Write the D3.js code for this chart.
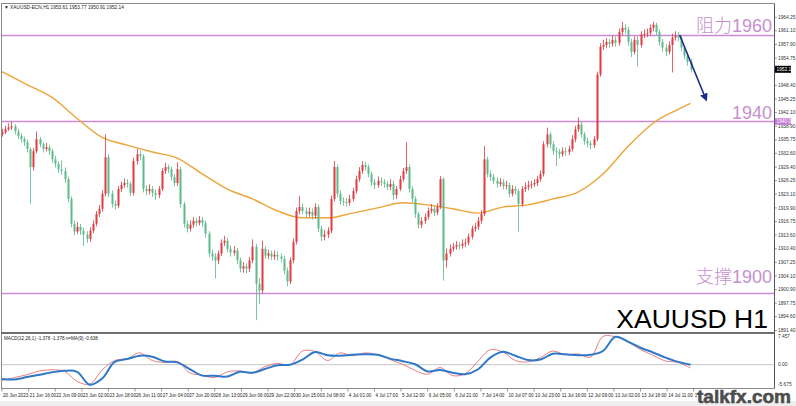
<!DOCTYPE html>
<html><head><meta charset="utf-8">
<script src="https://cdn.jsdelivr.net/npm/d3@7"></script>
<style>html,body{margin:0;padding:0;background:#fff;overflow:hidden}svg{display:block}</style>
</head><body><svg id="c" width="796" height="406"></svg>
<script>
// ---- data (2-hour candles, hour index = 2*i) ----
const firstOpen = 1937.0;
const closes = [1937.5,1938.2,1938.6,1938.9,1937.7,1936.6,1935.9,1935.2,1933.6,1929.4,
1933.1,1935.9,1934.7,1933.6,1934.0,1933.1,1931.2,1930.1,1928.9,1928.5,
1926.6,1922.0,1916.2,1914.4,1915.5,1914.6,1913.7,1912.7,1914.6,1916.2,
1918.5,1919.7,1923.2,1931.7,1923.2,1920.8,1920.4,1924.3,1925.2,1925.7,
1925.5,1923.4,1930.8,1932.4,1931.9,1924.3,1923.8,1924.3,1923.4,1922.9,
1924.3,1928.5,1929.4,1928.9,1927.1,1925.7,1928.9,1920.8,1916.2,1915.1,
1916.0,1916.9,1916.4,1917.1,1916.4,1913.9,1909.3,1908.6,1907.7,1909.3,
1911.8,1912.3,1910.4,1909.5,1910.0,1907.7,1905.8,1906.3,1905.8,1907.7,
1910.9,1902.3,1900.7,1910.4,1908.8,1909.3,1908.6,1909.0,1908.6,1908.1,
1905.3,1902.8,1907.7,1912.0,1919.2,1920.1,1919.2,1918.5,1919.0,1918.1,
1920.1,1915.1,1913.2,1913.7,1914.6,1922.0,1929.4,1923.2,1921.5,1921.3,
1921.1,1922.0,1923.8,1926.6,1928.5,1929.9,1929.4,1927.8,1925.9,1925.2,
1926.2,1925.9,1925.5,1924.8,1925.5,1922.9,1924.3,1926.6,1928.5,1929.4,
1924.3,1922.0,1918.5,1916.0,1916.9,1917.8,1919.2,1919.7,1918.8,1920.1,
1926.6,1907.7,1909.3,1910.4,1910.9,1911.3,1911.1,1911.6,1911.8,1913.2,
1915.1,1915.5,1916.9,1918.5,1931.2,1927.8,1927.1,1926.2,1925.5,1925.9,
1925.0,1925.2,1923.2,1924.3,1923.8,1920.8,1924.3,1924.8,1925.2,1925.4,
1925.7,1926.6,1927.8,1934.7,1937.0,1934.7,1933.1,1932.9,1932.4,1933.1,
1932.9,1933.6,1935.9,1938.2,1939.3,1937.0,1935.4,1934.9,1934.5,1935.9,
1950.9,1957.4,1957.8,1958.5,1958.1,1959.0,1958.3,1960.8,1961.8,1961.3,
1958.5,1956.2,1959.0,1957.8,1960.2,1960.4,1960.6,1961.8,1962.5,1960.8,
1958.5,1957.2,1956.2,1957.8,1959.5,1959.9,1959.5,1957.2,1955.3,1953.9,
1952.1];
const highs = [1938.3,1939.0,1939.6,1940.0,1939.4,1938.3,1937.2,1936.5,1935.8,1934.0,
1933.8,1937.7,1936.4,1935.2,1935.0,1934.6,1933.7,1932.0,1930.8,1931.0,
1929.3,1927.2,1922.6,1917.0,1916.6,1916.2,1915.3,1914.5,1915.4,1917.0,
1919.2,1920.6,1924.0,1937.0,1932.4,1924.0,1921.6,1925.0,1926.0,1926.8,
1926.6,1926.0,1931.6,1933.6,1933.2,1932.4,1925.2,1925.4,1925.0,1924.2,
1925.0,1929.2,1930.4,1930.0,1929.5,1927.8,1930.5,1929.5,1921.4,1917.0,
1917.0,1917.8,1917.6,1918.0,1917.8,1917.0,1914.5,1910.2,1909.4,1910.0,
1912.6,1913.4,1913.0,1911.2,1911.0,1910.6,1908.4,1907.3,1907.0,1908.5,
1912.6,1911.5,1903.5,1912.3,1911.0,1910.2,1910.0,1910.0,1909.8,1909.4,
1908.8,1906.0,1908.4,1912.8,1920.0,1922.7,1920.9,1920.0,1920.0,1919.8,
1921.0,1920.7,1915.8,1914.8,1915.4,1922.8,1930.8,1930.0,1924.0,1922.4,
1922.2,1923.0,1924.6,1927.4,1929.4,1930.8,1930.6,1930.0,1928.4,1926.6,
1927.2,1927.0,1926.6,1926.2,1926.6,1926.2,1925.0,1927.4,1929.2,1935.2,
1930.0,1925.0,1922.6,1919.0,1917.8,1918.6,1920.0,1920.8,1920.4,1921.0,
1927.3,1927.0,1910.5,1911.4,1911.8,1912.2,1912.0,1912.6,1912.8,1914.0,
1915.8,1916.4,1917.8,1919.4,1934.3,1931.8,1928.6,1927.8,1927.0,1926.8,
1926.6,1926.2,1925.8,1925.2,1925.0,1924.4,1925.0,1925.8,1926.2,1926.2,
1926.6,1927.4,1928.6,1935.4,1938.6,1937.6,1935.4,1934.0,1933.6,1934.0,
1934.0,1934.4,1936.8,1939.0,1941.0,1940.0,1937.6,1936.2,1935.6,1936.6,
1951.6,1958.2,1959.0,1959.4,1959.2,1960.0,1959.8,1961.6,1963.2,1962.6,
1962.0,1959.2,1959.8,1959.8,1961.0,1961.4,1961.6,1962.6,1963.2,1963.0,
1961.4,1959.2,1958.0,1958.6,1960.4,1961.0,1960.8,1960.0,1957.8,1956.0,
1954.6];
const lows = [1936.5,1937.1,1937.8,1938.0,1937.0,1935.9,1935.0,1934.3,1932.8,1920.8,
1928.6,1932.6,1934.0,1932.8,1933.0,1932.2,1930.4,1929.3,1928.0,1927.6,
1925.7,1921.2,1915.4,1913.5,1913.8,1913.6,1911.1,1911.8,1912.0,1914.0,
1915.6,1917.8,1919.0,1922.6,1922.4,1920.0,1919.5,1919.8,1923.6,1924.6,
1924.6,1922.6,1922.8,1930.0,1931.0,1923.5,1922.8,1923.0,1922.5,1921.8,
1922.2,1923.8,1927.8,1928.0,1926.3,1924.9,1925.0,1920.0,1915.3,1914.2,
1914.4,1915.3,1915.6,1915.8,1915.5,1913.0,1908.4,1907.6,1903.5,1906.8,
1908.7,1911.0,1909.6,1908.6,1908.8,1906.8,1904.9,1904.8,1904.6,1905.0,
1907.0,1893.8,1897.5,1900.0,1908.0,1908.0,1907.8,1907.8,1907.6,1907.2,
1904.4,1901.6,1902.2,1907.0,1911.4,1918.4,1918.4,1917.6,1917.8,1917.2,
1917.4,1914.3,1912.2,1912.4,1912.9,1914.0,1921.4,1922.4,1920.6,1920.4,
1920.2,1920.4,1921.4,1923.2,1926.0,1927.8,1928.6,1927.0,1925.0,1924.3,
1924.6,1925.0,1924.6,1924.0,1924.0,1921.8,1922.0,1923.8,1926.0,1927.8,
1923.5,1921.2,1917.6,1915.1,1915.2,1916.2,1917.2,1918.6,1918.0,1918.2,
1919.6,1903.0,1906.0,1908.6,1909.8,1910.2,1910.2,1910.4,1910.8,1911.2,
1912.6,1914.4,1914.8,1916.2,1918.0,1927.0,1926.2,1925.4,1924.6,1924.8,
1924.2,1924.2,1922.4,1922.6,1923.0,1914.4,1920.2,1923.6,1924.0,1924.4,
1924.8,1925.0,1926.0,1927.2,1934.0,1933.8,1932.2,1929.6,1931.4,1931.8,
1932.0,1932.2,1933.0,1935.2,1937.6,1936.2,1934.6,1934.0,1933.6,1933.8,
1935.4,1950.4,1956.6,1957.0,1957.2,1957.4,1957.4,1957.6,1960.0,1960.4,
1957.6,1955.0,1955.6,1952.8,1957.2,1959.4,1959.6,1960.0,1961.0,1960.0,
1957.6,1956.2,1955.2,1955.6,1951.4,1958.8,1958.6,1956.4,1954.4,1953.0,
1951.4];
// moving average, sampled every 16 hours (last at hour 440)
const maHours = [0,16,32,48,64,80,96,112,128,144,160,176,192,208,224,240,256,272,288,304,320,336,352,368,384,400,416,432,440];
const maValues = [1951.6,1948.6,1945.6,1940.7,1936.3,1934.5,1932.9,1931.5,1927.8,1924.3,1922.0,1919.2,1917.6,1917.6,1918.7,1919.9,1921.1,1920.6,1919.7,1918.7,1920.1,1920.6,1922.0,1923.6,1927.8,1934.2,1939.6,1942.8,1944.2];
// MACD panel, sampled every 8 hours
const macdMain = [-3.82,-3.13,-2.44,-1.52,-1.24,-1.64,-4.06,-4.75,-1.29,1.01,
1.47,2.86,1.01,0.55,0.78,-1.98,-2.56,-3.13,-1.75,-1.52,
-1.98,-0.48,0.32,-0.07,3.32,3.20,1.01,2.86,2.17,2.86,
2.40,1.24,0.09,-1.41,-2.33,-0.71,-2.67,-2.21,0.78,3.62,
3.09,1.01,0.67,1.71,3.32,2.40,2.63,1.82,6.84,6.77,
5.51,3.66,2.28,0.90,0.55,-0.83];
const macdSignal = [-3.48,-3.59,-3.02,-2.44,-1.87,-1.47,-1.75,-4.86,-3.36,0.67,
1.36,2.17,1.94,0.78,0.55,-1.06,-2.67,-2.67,-2.90,-1.75,
-1.98,-1.06,-0.14,-0.02,1.24,3.09,2.28,2.17,2.40,2.51,
2.40,1.47,0.85,0.09,-1.64,-1.29,-1.98,-2.33,-1.18,1.71,
3.13,2.17,1.13,1.24,2.63,2.51,2.28,2.40,3.32,6.77,
5.62,4.12,2.97,1.71,0.67,-0.02];
// axis labels
const xLabels = ["20 Jun 2023","21 Jun 16:00","22 Jun 09:00","23 Jun 02:00","23 Jun 18:00","26 Jun 11:00","27 Jun 04:00","27 Jun 20:00","28 Jun 13:00","29 Jun 06:00","29 Jun 22:00","30 Jun 15:00","3 Jul 08:00","4 Jul 01:00","4 Jul 17:00","5 Jul 12:00","6 Jul 05:00","6 Jul 21:00","7 Jul 14:00","10 Jul 07:00","10 Jul 23:00","11 Jul 16:00","12 Jul 09:00","13 Jul 02:00","13 Jul 18:00","14 Jul 11:00","17 Jul"];
const yTicks = [1964.25,1961.10,1957.90,1954.75,1948.40,1945.25,1942.10,1938.90,1935.75,1932.60,1929.40,1926.25,1923.10,1919.90,1916.75,1913.60,1910.40,1907.25,1904.10,1900.90,1897.75,1894.60,1891.40];
const macdTicks = [7.457,0,-5.675];
const macdTickLabels = ["7.457","0.00","-5.675"];
const levels = [1960,1940,1900];
const levelLabels = ["阻力1960","1940","支撑1900"];
const lastPrice = 1952.14;
const arrowFrom = [433, 1960.1], arrowTo = [450, 1945.0];
const header = "▼ XAUUSD-ECN,H1  1953.61 1953.77 1950.91 1952.14";
const macdHeader = "MACD(12,26,1) -1.378 -1.378  n=MA(9) -0.638";

// ---- drawing ----
const svg = d3.select('#c');
const axisX = 774.5, mainT = 3.5, mainB = 332.5, macdB = 388.5;
const x = d3.scaleLinear().domain([0, 442]).range([2, 2 + 442 * 1.565]);
const y = d3.scaleLinear().domain([1900, 1940]).range([293.5, 121.5]);
const ym = d3.scaleLinear().domain([-5.675, 7.457]).range([388, 334]);
const UP = '#e23b40', DN = '#5cba8c';

svg.append('rect').attr('x',0).attr('y',0).attr('width',796).attr('height',406).attr('fill','#fff');
svg.append('rect').attr('x',0).attr('y',401).attr('width',796).attr('height',5).attr('fill','#eeeeee');

const defs = svg.append('defs');
defs.append('clipPath').attr('id','mclip').append('rect').attr('x',2).attr('y',mainT).attr('width',axisX-2).attr('height',mainB-mainT);
defs.append('clipPath').attr('id','dclip').append('rect').attr('x',2).attr('y',334).attr('width',axisX-2).attr('height',macdB-334);
defs.append('marker').attr('id','ah').attr('viewBox','0 0 10 10').attr('refX',8).attr('refY',5)
  .attr('markerWidth',5).attr('markerHeight',5).attr('orient','auto')
  .append('path').attr('d','M0,0 L10,5 L0,10 z').attr('fill','#1b2a8c');

// frames
const frame = svg.append('g').attr('stroke','#8a8a8a').attr('fill','none');
frame.append('line').attr('x1',1).attr('x2',axisX).attr('y1',mainT).attr('y2',mainT);
frame.append('line').attr('x1',1.5).attr('x2',1.5).attr('y1',mainT).attr('y2',macdB);
frame.append('line').attr('x1',1).attr('x2',axisX).attr('y1',333).attr('y2',333).attr('stroke-width',2).attr('stroke','#6f6f6f');
frame.append('line').attr('x1',1).attr('x2',axisX).attr('y1',macdB).attr('y2',macdB);
frame.append('line').attr('x1',axisX).attr('x2',axisX).attr('y1',mainT).attr('y2',macdB).attr('stroke','#555');

// level lines
const lv = svg.append('g').attr('clip-path','url(#mclip)');
lv.selectAll('line').data(levels).join('line')
  .attr('x1',2).attr('x2',axisX).attr('y1',d=>y(d)).attr('y2',d=>y(d))
  .attr('stroke','#cf89d8').attr('stroke-width',1.3);

// MA
const main = svg.append('g').attr('clip-path','url(#mclip)');
main.append('path').datum(maHours.map((h,i)=>[h,maValues[i]]))
  .attr('d', d3.line().x(d=>x(d[0])).y(d=>y(d[1])).curve(d3.curveMonotoneX))
  .attr('fill','none').attr('stroke','#eda43a').attr('stroke-width',1.4);

// candles
const candles = closes.map((c,i)=>({h:2*i, o: i===0?firstOpen:closes[i-1], c, hi:highs[i], lo:lows[i]}));
const cg = main.append('g');
cg.selectAll('line').data(candles).join('line')
  .attr('x1',d=>Math.round(x(d.h))+0.5).attr('x2',d=>Math.round(x(d.h))+0.5)
  .attr('y1',d=>y(d.hi)).attr('y2',d=>y(d.lo))
  .attr('stroke',d=>d.c>=d.o?UP:DN).attr('stroke-width',1).attr('opacity',0.8);
cg.selectAll('rect').data(candles).join('rect')
  .attr('x',d=>Math.round(x(d.h))-0.5).attr('width',2)
  .attr('y',d=>y(Math.max(d.o,d.c))).attr('height',d=>Math.max(1,Math.abs(y(d.o)-y(d.c))))
  .attr('fill',d=>d.c>=d.o?UP:DN);

// arrow
main.append('line').attr('x1',x(arrowFrom[0])).attr('y1',y(arrowFrom[1]))
  .attr('x2',x(arrowTo[0])).attr('y2',y(arrowTo[1]))
  .attr('stroke','#1b2a8c').attr('stroke-width',1.6).attr('marker-end','url(#ah)');

// level annotation texts
const ann = svg.append('g').attr('fill','#c68fcf').attr('font-size',18).attr('text-anchor','end');
const annOffsets = [3.5, 2.5, 10.5];
levelLabels.forEach((t,i)=>{
  ann.append('text').attr('x',772).attr('y',y(levels[i])-annOffsets[i])
    .style('font-family','"Liberation Sans","Noto Sans CJK SC",sans-serif').style('font-weight',300)
    .text(t);
});

// big label
svg.append('text').attr('x',768).attr('y',328).attr('text-anchor','end')
  .style('font-family','"Liberation Sans",Arial,sans-serif').attr('font-size',26.5).attr('fill','#000')
  .text('XAUUSD H1');

// right price axis
const ra = svg.append('g').style('font-family','"Liberation Sans",Arial,sans-serif').attr('font-size',4.8).attr('fill','#333');
yTicks.forEach(v=>{
  ra.append('line').attr('x1',axisX).attr('x2',axisX+2.5).attr('y1',y(v)).attr('y2',y(v)).attr('stroke','#555').attr('stroke-width',0.6);
  ra.append('text').attr('x',axisX+3.5).attr('y',y(v)+1.7).text(v.toFixed(2));
});
// price boxes
ra.append('rect').attr('x',axisX+0.5).attr('y',y(lastPrice)-3.5).attr('width',16).attr('height',7).attr('fill','#000');
ra.append('text').attr('x',axisX+2).attr('y',y(lastPrice)+1.8).attr('fill','#fff').text(lastPrice.toFixed(2));
ra.append('rect').attr('x',axisX+0.5).attr('y',y(1940)-3.2).attr('width',16).attr('height',6.4).attr('fill','#c678d6');
ra.append('text').attr('x',axisX+2).attr('y',y(1940)+1.8).attr('fill','#fff').text((1940).toFixed(2));

// MACD panel
const mp = svg.append('g').attr('clip-path','url(#dclip)');
mp.append('line').attr('x1',2).attr('x2',axisX).attr('y1',ym(0)).attr('y2',ym(0)).attr('stroke','#b8b8b8').attr('stroke-width',0.8);
const mline = d3.line().x((d,i)=>x(i*8)).y(d=>ym(d)).curve(d3.curveCatmullRom);
mp.append('path').datum(macdMain).attr('d',mline).attr('fill','none').attr('stroke','#e46f72').attr('stroke-width',0.9);
mp.append('path').datum(macdSignal).attr('d',mline).attr('fill','none').attr('stroke','#2f78c9').attr('stroke-width',2);
macdTicks.forEach((v,i)=>{
  ra.append('text').attr('x',axisX+3.5).attr('y',ym(v)+(i===0?4.2:i===2?-2.5:1.7)).text(macdTickLabels[i]);
});

// headers
svg.append('text').attr('x',4).attr('y',9).attr('font-size',4.8).attr('fill','#222')
  .style('font-family','"Liberation Sans",Arial,sans-serif').text(header);
svg.append('text').attr('x',4).attr('y',340).attr('font-size',4.6).attr('fill','#222')
  .style('font-family','"Liberation Sans",Arial,sans-serif').text(macdHeader);

// time axis
const ta = svg.append('g').style('font-family','"Liberation Sans",Arial,sans-serif').attr('font-size',4.6).attr('fill','#222');
xLabels.forEach((t,i)=>{
  const px = x(17*i);
  ta.append('line').attr('x1',px).attr('x2',px).attr('y1',macdB).attr('y2',macdB+3).attr('stroke','#555').attr('stroke-width',0.6);
  ta.append('text').attr('x',px+1).attr('y',397).text(t);
});

// watermark (covers the last time label as in the original)
svg.append('rect').attr('x',697).attr('y',389.5).attr('width',99).attr('height',11.5).attr('fill','#fff');
svg.append('text').attr('x',697).attr('y',402.5).attr('font-size',19).attr('font-weight',900)
  .style('font-family','"Liberation Sans",Arial,sans-serif').attr('fill','#4d4d4d')
  .attr('stroke','#4d4d4d').attr('stroke-width',0.6).text('talkfx.com');
</script></body></html>
